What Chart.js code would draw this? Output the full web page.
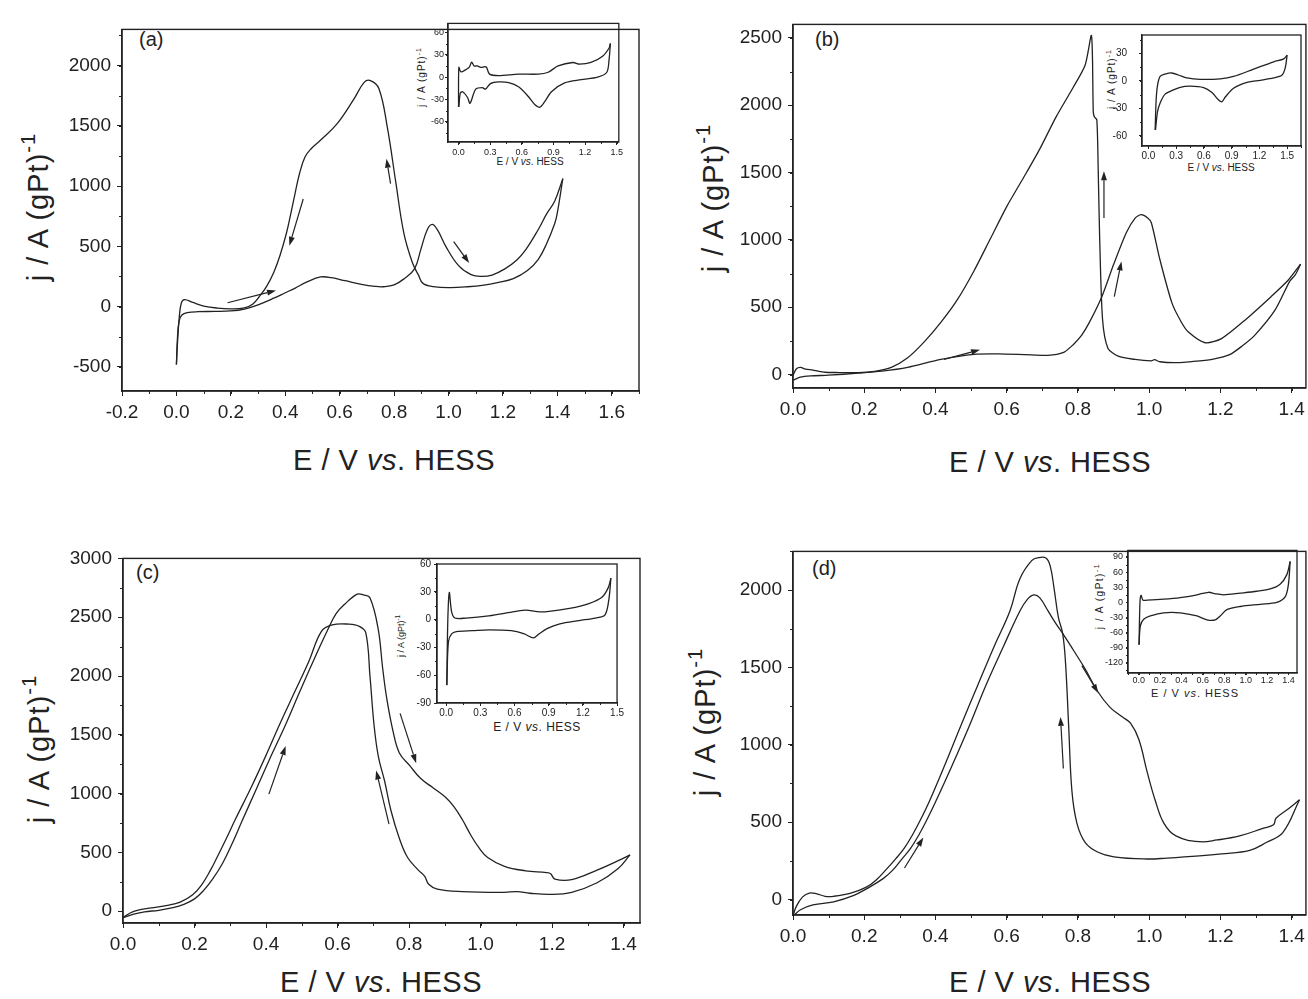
<!DOCTYPE html>
<html>
<head>
<meta charset="utf-8">
<script src="https://cdn.jsdelivr.net/npm/chart.js@4.4.1/dist/chart.umd.min.js"></script>
<style>
  body { margin: 0; background: #fff; width: 1308px; height: 999px; position: relative; overflow: hidden;
         font-family: "Liberation Sans", Arial, sans-serif; color: #222; }
  canvas { position: absolute; }
  .t { position: absolute; white-space: nowrap; line-height: 1; transform: translate(-50%, -50%); }
  .ty { transform: translate(-50%, -50%) rotate(-90deg); }
  .main { font-size: 29px; letter-spacing: 0.5px; }
  .mainy { font-size: 29px; letter-spacing: 1px; }
  .lab { position: absolute; font-size: 20px; line-height: 1; transform: translateY(-50%); }
  sup { font-size: 0.7em; vertical-align: 0.6em; line-height: 0; }
</style>
</head>
<body>

<div class="lab" style="left:139px; top:39px">(a)</div>
<div class="lab" style="left:815px; top:39px">(b)</div>
<div class="lab" style="left:136px; top:572px">(c)</div>
<div class="lab" style="left:812px; top:568px">(d)</div>

<div class="t main" style="left:394px; top:460px">E / V <i>vs</i>. HESS</div>
<div class="t main" style="left:1050px; top:462px">E / V <i>vs</i>. HESS</div>
<div class="t main" style="left:381px; top:982px">E / V <i>vs</i>. HESS</div>
<div class="t main" style="left:1050px; top:982px">E / V <i>vs</i>. HESS</div>

<div class="t ty mainy" style="left:38px; top:207px">j / A (gPt)<sup>-1</sup></div>
<div class="t ty mainy" style="left:713px; top:198px">j / A (gPt)<sup>-1</sup></div>
<div class="t ty mainy" style="left:39px; top:749px">j / A (gPt)<sup>-1</sup></div>
<div class="t ty mainy" style="left:705px; top:722px">j / A (gPt)<sup>-1</sup></div>

<div class="t" style="left:530px; top:162px; font-size:10px">E / V <i>vs</i>. HESS</div>
<div class="t" style="left:1221px; top:168px; font-size:10px">E / V <i>vs</i>. HESS</div>
<div class="t" style="left:537px; top:727px; font-size:12px; letter-spacing:0.5px">E / V <i>vs</i>. HESS</div>
<div class="t" style="left:1195px; top:693px; font-size:11px; letter-spacing:1px">E / V <i>vs</i>. HESS</div>

<div class="t ty" style="left:422px; top:77px; font-size:10px; letter-spacing:1px">j / A (gPt)<sup>-1</sup></div>
<div class="t ty" style="left:1112px; top:79px; font-size:10px; letter-spacing:1px">j / A (gPt)<sup>-1</sup></div>
<div class="t ty" style="left:401px; top:636px; font-size:9px">j / A (gPt)<sup>-1</sup></div>
<div class="t ty" style="left:1100px; top:596px; font-size:10px; letter-spacing:1.5px">j / A (gPt)<sup>-1</sup></div>

<script>
// ---- data: [E (V vs. HESS), j (A gPt^-1)] ----
const aForward = [[0,-480],[0.004,-250],[0.01,-120],[0.02,-70],[0.04,-50],[0.08,-42],[0.14,-40],[0.2,-36],[0.25,-20],[0.3,15],[0.36,72],[0.4,115],[0.435,152],[0.48,205],[0.53,246],[0.57,240],[0.62,215],[0.68,185],[0.73,168],[0.76,165],[0.8,180],[0.836,230],[0.875,313],[0.898,473],[0.921,634],[0.94,682],[0.96,634],[0.99,500],[1.037,340],[1.083,265],[1.12,251],[1.16,262],[1.207,313],[1.25,385],[1.284,473],[1.33,640],[1.36,767],[1.39,874],[1.42,1062]];
const aReverse = [[1.42,1062],[1.4,780],[1.39,687],[1.36,520],[1.33,393],[1.29,300],[1.238,233],[1.18,200],[1.13,179],[1.07,165],[1.006,158],[0.944,166],[0.906,193],[0.89,259],[0.867,366],[0.836,607],[0.806,1035],[0.775,1489],[0.744,1810],[0.713,1875],[0.69,1860],[0.651,1717],[0.59,1516],[0.53,1382],[0.495,1310],[0.472,1240],[0.452,1100],[0.435,928],[0.42,767],[0.404,607],[0.38,420],[0.358,286],[0.332,170],[0.31,99],[0.28,19],[0.25,-10],[0.2,-18],[0.15,-12],[0.1,5],[0.06,35],[0.03,58],[0.018,30],[0.01,-100],[0.004,-300],[0,-480]];
const aArrows = [[0.466,893,0.415,505],[0.188,32,0.366,134],[0.787,1021,0.772,1227],[1.019,540,1.076,361]];

const bForward = [[0,-43],[0.02,-20],[0.05,-10],[0.1,-5],[0.183,10],[0.25,25],[0.322,53],[0.415,112],[0.508,150],[0.577,153],[0.65,148],[0.716,143],[0.76,165],[0.786,220],[0.81,290],[0.832,387],[0.867,578],[0.9,817],[0.936,1055],[0.96,1160],[0.977,1187],[0.995,1165],[1.006,1127],[1.029,864],[1.064,530],[1.09,390],[1.11,315],[1.157,236],[1.203,267],[1.272,411],[1.342,578],[1.39,700],[1.425,820]];
const bReverse = [[1.425,820],[1.41,740],[1.394,690],[1.354,482],[1.296,291],[1.26,210],[1.226,148],[1.18,115],[1.133,100],[1.075,88],[1.03,95],[1.015,110],[1.006,102],[0.96,112],[0.913,136],[0.884,196],[0.869,411],[0.861,1008],[0.857,1500],[0.853,1891],[0.846,1915],[0.843,1950],[0.838,2517],[0.82,2297],[0.786,2130],[0.739,1915],[0.693,1676],[0.647,1461],[0.6,1247],[0.554,1008],[0.508,769],[0.461,554],[0.415,387],[0.369,244],[0.322,124],[0.276,53],[0.229,24],[0.183,14],[0.12,15],[0.09,17],[0.07,25],[0.056,33],[0.035,40],[0.021,53],[0.009,41],[0,-7]];
const bArrows = [[0.424,112,0.525,184],[0.873,1163,0.873,1509],[0.902,578,0.922,840]];

const cForward = [[0,-54],[0.03,-25],[0.06,-5],[0.1,8],[0.14,30],[0.17,58],[0.2,105],[0.225,175],[0.25,270],[0.279,410],[0.306,580],[0.332,760],[0.373,1040],[0.414,1319],[0.455,1588],[0.493,1857],[0.532,2126],[0.573,2395],[0.596,2530],[0.62,2610],[0.655,2696],[0.672,2690],[0.691,2664],[0.714,2395],[0.726,2072],[0.738,1803],[0.755,1534],[0.773,1345],[0.802,1238],[0.832,1130],[0.867,1050],[0.902,969],[0.926,888],[0.949,780],[0.973,646],[0.996,538],[1.02,457],[1.067,382],[1.126,344],[1.185,328],[1.196,318],[1.208,274],[1.255,269],[1.326,350],[1.385,430],[1.418,479]];
const cReverse = [[1.418,479],[1.385,363],[1.326,242],[1.255,161],[1.196,143],[1.138,153],[1.102,167],[1.067,161],[0.949,167],[0.879,188],[0.855,229],[0.844,296],[0.826,350],[0.796,457],[0.773,619],[0.749,861],[0.732,1103],[0.714,1319],[0.702,1588],[0.691,1991],[0.679,2368],[0.661,2422],[0.632,2441],[0.585,2435],[0.555,2380],[0.52,2126],[0.479,1857],[0.438,1588],[0.399,1319],[0.358,1050],[0.314,780],[0.29,625],[0.265,470],[0.244,345],[0.22,225],[0.195,140],[0.16,78],[0.12,48],[0.08,28],[0.04,8],[0.02,-15],[0,-54]];
const cArrows = [[0.408,996,0.455,1405],[0.744,740,0.708,1197],[0.775,1682,0.82,1259]];

const dForward = [[0,-108],[0.021,-66],[0.056,-35],[0.114,-15],[0.171,27],[0.206,69],[0.253,135],[0.28,190],[0.305,260],[0.33,330],[0.354,420],[0.378,525],[0.4,630],[0.447,868],[0.494,1117],[0.542,1387],[0.591,1637],[0.637,1865],[0.658,1940],[0.676,1969],[0.693,1950],[0.716,1865],[0.739,1780],[0.757,1720],[0.786,1616],[0.82,1491],[0.855,1346],[0.89,1242],[0.925,1180],[0.948,1138],[0.971,1034],[0.994,827],[1.017,640],[1.041,494],[1.075,411],[1.141,374],[1.191,385],[1.254,411],[1.319,460],[1.349,483],[1.356,525],[1.39,585],[1.422,645]];
const dReverse = [[1.422,645],[1.375,432],[1.33,370],[1.282,318],[1.203,295],[1.141,282],[1.05,268],[0.994,262],[0.901,276],[0.855,307],[0.82,370],[0.797,494],[0.783,702],[0.774,1117],[0.765,1533],[0.757,1720],[0.745,1823],[0.733,2010],[0.722,2156],[0.71,2207],[0.69,2210],[0.67,2190],[0.637,2073],[0.609,1865],[0.565,1637],[0.519,1387],[0.47,1117],[0.426,868],[0.382,630],[0.36,525],[0.336,420],[0.312,330],[0.287,260],[0.262,195],[0.235,130],[0.206,80],[0.16,40],[0.114,21],[0.09,21],[0.067,37],[0.046,42],[0.027,17],[0.009,-46],[0,-108]];
const dArrows = [[0.313,204,0.366,401],[0.759,847,0.751,1180],[0.811,1512,0.857,1335]];

// insets (blank electrolyte CVs)
const iaForward = [[0,-40],[0.003,13],[0.022,7],[0.069,10],[0.1,13],[0.125,20],[0.147,15],[0.178,15],[0.21,13],[0.25,14],[0.266,13],[0.294,4],[0.381,2],[0.569,4],[0.756,4],[0.85,6.5],[0.944,15],[1.084,19.6],[1.147,17.4],[1.256,19.6],[1.366,28],[1.428,39],[1.44,45]];
const iaReverse = [[1.44,45],[1.428,24],[1.406,6.5],[1.319,0],[1.163,-3.5],[1.006,-7.8],[0.881,-19.6],[0.819,-32.6],[0.772,-40.4],[0.725,-37],[0.662,-26],[0.569,-13],[0.475,-7.4],[0.381,-6.5],[0.303,-8.7],[0.256,-16],[0.225,-14],[0.163,-16],[0.109,-35],[0.084,-27],[0.038,-19.6],[0.016,-21.7],[0.003,-40]];
const ibForward = [[0.072,-53.5],[0.083,-20.8],[0.098,-4.8],[0.126,4.8],[0.18,7.4],[0.253,8.6],[0.325,6.4],[0.416,3.2],[0.56,1.6],[0.777,2.2],[0.92,4.8],[1.138,12.8],[1.355,20.8],[1.464,24],[1.5,28]];
const ibReverse = [[1.5,28],[1.48,14.4],[1.446,6.4],[1.355,3.2],[1.21,0.6],[1.066,-1.6],[0.92,-8],[0.831,-17.6],[0.795,-22.7],[0.759,-20.8],[0.687,-12.8],[0.596,-7.4],[0.452,-5.8],[0.343,-7],[0.253,-10.6],[0.18,-14.4],[0.126,-24],[0.098,-33.6],[0.076,-53.5]];
const icForward = [[0.006,-70.7],[0.015,0],[0.028,29.3],[0.048,8.6],[0.077,1.7],[0.176,1.7],[0.374,4.1],[0.6,8.6],[0.7,10.3],[0.8,8.6],[0.885,8.6],[1.083,12],[1.253,17.2],[1.367,24],[1.423,34.5],[1.446,44.8]];
const icReverse = [[1.446,44.8],[1.429,22.4],[1.395,5.2],[1.31,1.7],[1.168,-1],[0.998,-4.5],[0.885,-9.7],[0.814,-15.5],[0.766,-19.7],[0.686,-15.5],[0.573,-12],[0.374,-11],[0.232,-12],[0.09,-13],[0.048,-15.5],[0.02,-24],[0.006,-70.7]];
const idForward = [[0.003,-84],[0.012,0],[0.022,13.9],[0.04,4.4],[0.078,4.4],[0.233,6.3],[0.389,9.5],[0.545,15],[0.653,20],[0.716,17],[0.793,15],[0.949,18.3],[1.105,22],[1.229,26.5],[1.322,36],[1.385,55],[1.416,81]];
const idReverse = [[1.416,81],[1.4,36],[1.369,10.7],[1.291,0],[1.136,-3.8],[0.949,-8.2],[0.824,-14.5],[0.762,-27],[0.716,-34.7],[0.638,-34.7],[0.545,-27],[0.389,-20.8],[0.233,-20.8],[0.109,-27],[0.047,-33.4],[0.016,-46],[0.003,-84]];

// tick labels
const aXTicks = [-0.2, 0, 0.2, 0.4, 0.6, 0.8, 1.0, 1.2, 1.4, 1.6];
const eXTicks = [0, 0.2, 0.4, 0.6, 0.8, 1.0, 1.2, 1.4];
const aYTicks = [-500, 0, 500, 1000, 1500, 2000];
const bYTicks = [0, 500, 1000, 1500, 2000, 2500];
const cYTicks = [0, 500, 1000, 1500, 2000, 2500, 3000];
const dYTicks = [0, 500, 1000, 1500, 2000];
const insetXTicks = [0, 0.3, 0.6, 0.9, 1.2, 1.5];
const idXTicks = [0, 0.2, 0.4, 0.6, 0.8, 1.0, 1.2, 1.4];
const iaYTicks = [-60, -30, 0, 30, 60];
const ibYTicks = [-60, -30, 0, 30];
const icYTicks = [-90, -60, -30, 0, 30, 60];
const idYTicks = [-120, -90, -60, -30, 0, 30, 60, 90];

const ink = "#222";
const fontFamily = '"Liberation Sans", Arial, sans-serif';

function drawArrow(ctx, x1, y1, x2, y2, len, half) {
  const ang = Math.atan2(y2 - y1, x2 - x1);
  const bx = x2 - len * Math.cos(ang), by = y2 - len * Math.sin(ang);
  ctx.beginPath();
  ctx.moveTo(x1, y1);
  ctx.lineTo(bx, by);
  ctx.stroke();
  ctx.beginPath();
  ctx.moveTo(x2, y2);
  ctx.lineTo(bx + half * Math.sin(ang), by - half * Math.cos(ang));
  ctx.lineTo(bx - half * Math.sin(ang), by + half * Math.cos(ang));
  ctx.closePath();
  ctx.fill();
}

// frame on all four sides, minor ticks and the scan-direction arrows
const framePlugin = {
  id: "frame",
  afterDatasetsDraw(chart, args, o) {
    const { ctx, chartArea: a, scales: { x, y } } = chart;
    ctx.save();
    ctx.strokeStyle = ink;
    ctx.fillStyle = ink;
    ctx.lineWidth = o.frameWidth;
    ctx.strokeRect(a.left, a.top, a.right - a.left, a.bottom - a.top);
    ctx.lineWidth = 1;
    ctx.beginPath();
    for (let n = Math.ceil(x.min / o.xMinor - 1e-6); n <= Math.floor(x.max / o.xMinor + 1e-6); n++) {
      const px = Math.round(x.getPixelForValue(n * o.xMinor)) + 0.5;
      ctx.moveTo(px, a.bottom);
      ctx.lineTo(px, a.bottom + o.minorLen);
    }
    for (let n = Math.ceil(y.min / o.yMinor - 1e-6); n <= Math.floor(y.max / o.yMinor + 1e-6); n++) {
      const py = Math.round(y.getPixelForValue(n * o.yMinor)) + 0.5;
      ctx.moveTo(a.left, py);
      ctx.lineTo(a.left - o.minorLen, py);
    }
    ctx.stroke();
    ctx.lineWidth = 1.2;
    (o.arrows || []).forEach(r => {
      drawArrow(ctx, x.getPixelForValue(r[0]), y.getPixelForValue(r[1]),
                x.getPixelForValue(r[2]), y.getPixelForValue(r[3]), 9, 3);
    });
    ctx.restore();
  }
};

function plot(p) {
  const canvas = document.createElement("canvas");
  const w = p.r - p.l + p.ml + p.mr;
  const h = p.b - p.t + p.mt + p.mb;
  canvas.width = w;
  canvas.height = h;
  canvas.style.left = (p.l - p.ml) + "px";
  canvas.style.top = (p.t - p.mt) + "px";
  canvas.style.width = w + "px";
  canvas.style.height = h + "px";
  document.body.appendChild(canvas);

  const axisBase = {
    type: "linear",
    border: { display: true, color: ink, width: p.frameWidth },
    grid: { drawOnChartArea: false, drawTicks: true, tickLength: p.tickLen, tickColor: ink, tickWidth: 1 }
  };

  new Chart(canvas, {
    type: "scatter",
    data: {
      datasets: p.series.map(s => ({
        data: s.map(v => ({ x: v[0], y: v[1] })),
        showLine: true,
        borderColor: ink,
        borderWidth: p.lineWidth,
        pointRadius: 0,
        tension: p.tension
      }))
    },
    options: {
      responsive: false,
      animation: false,
      devicePixelRatio: 1,
      layout: { padding: { top: p.mt, right: p.mr, left: 0, bottom: 0 } },
      plugins: {
        legend: { display: false },
        tooltip: { enabled: false },
        frame: { frameWidth: p.frameWidth, minorLen: p.minorLen, xMinor: p.xMinor, yMinor: p.yMinor, arrows: p.arrows }
      },
      scales: {
        x: {
          ...axisBase,
          min: p.xMin,
          max: p.xMax,
          afterBuildTicks: s => { s.ticks = p.xTicks.map(v => ({ value: v })); },
          afterFit: s => { s.height = p.mb; },
          ticks: {
            autoSkip: false, maxRotation: 0, minRotation: 0, padding: p.xPad, color: ink,
            font: { family: fontFamily, size: p.fontSize },
            callback: v => Number(v).toFixed(1)
          }
        },
        y: {
          ...axisBase,
          min: p.yMin,
          max: p.yMax,
          afterBuildTicks: s => { s.ticks = p.yTicks.map(v => ({ value: v })); },
          afterFit: s => { s.width = p.ml; },
          ticks: {
            autoSkip: false, padding: p.yPad, color: ink,
            font: { family: fontFamily, size: p.fontSize },
            callback: v => String(v)
          }
        }
      }
    },
    plugins: [framePlugin]
  });
}

const mainStyle = { ml: 64, mr: 4, mt: 4, mb: 40, fontSize: 19, tickLen: 5, minorLen: 3, tension: 0.4,
                    xPad: 5, yPad: 6, lineWidth: 1.3, frameWidth: 1.4, xMinor: 0.1, yMinor: 250 };
const insetStyle = { mr: 3, mt: 3, mb: 18, tickLen: 3, minorLen: 2, tension: 0.3, lineWidth: 1.3, frameWidth: 1.3 };

plot({ ...mainStyle, l: 122, t: 16, r: 639, b: 391, xMin: -0.2, xMax: 1.7, yMin: -700, yMax: 2300,
       xTicks: aXTicks, yTicks: aYTicks, series: [aForward, aReverse], arrows: aArrows });
plot({ ...mainStyle, l: 793, t: 11, r: 1306, b: 388, xMin: 0, xMax: 1.44, yMin: -100, yMax: 2600,
       xTicks: eXTicks, yTicks: bYTicks, series: [bForward, bReverse], arrows: bArrows, tension: 0.25 });
plot({ ...mainStyle, l: 123, t: 545, r: 640, b: 923, xMin: 0, xMax: 1.446, yMin: -100, yMax: 3000,
       xTicks: eXTicks, yTicks: cYTicks, series: [cForward, cReverse], arrows: cArrows });
plot({ ...mainStyle, l: 793, t: 538, r: 1306, b: 915, xMin: 0, xMax: 1.44, yMin: -100, yMax: 2250,
       xTicks: eXTicks, yTicks: dYTicks, series: [dForward, dReverse], arrows: dArrows });

plot({ ...insetStyle, ml: 30, l: 448, t: 20, r: 622, b: 142, xMin: -0.1, xMax: 1.52, yMin: -87, yMax: 72,
       fontSize: 9, xPad: 2, yPad: 1, xMinor: 0.15, yMinor: 15,
       xTicks: insetXTicks, yTicks: iaYTicks, series: [iaForward, iaReverse] });
plot({ ...insetStyle, ml: 36, l: 1142, t: 20, r: 1301, b: 146, xMin: -0.07, xMax: 1.65, yMin: -71, yMax: 50,
       fontSize: 10, xPad: 1, yPad: 12, xMinor: 0.15, yMinor: 15,
       xTicks: insetXTicks, yTicks: ibYTicks, series: [ibForward, ibReverse] });
plot({ ...insetStyle, ml: 30, l: 437, t: 558, r: 622, b: 703, xMin: -0.08, xMax: 1.5, yMin: -90, yMax: 60,
       fontSize: 10, xPad: 1, yPad: 3, xMinor: 0.15, yMinor: 15,
       xTicks: insetXTicks, yTicks: icYTicks, series: [icForward, icReverse] });
plot({ ...insetStyle, ml: 30, l: 1128, t: 545, r: 1297, b: 673, xMin: -0.1, xMax: 1.48, yMin: -140, yMax: 103,
       fontSize: 9, xPad: 0, yPad: 3, tickLen: 2, xMinor: 0.1, yMinor: 15,
       xTicks: idXTicks, yTicks: idYTicks, series: [idForward, idReverse] });
</script>
</body>
</html>
